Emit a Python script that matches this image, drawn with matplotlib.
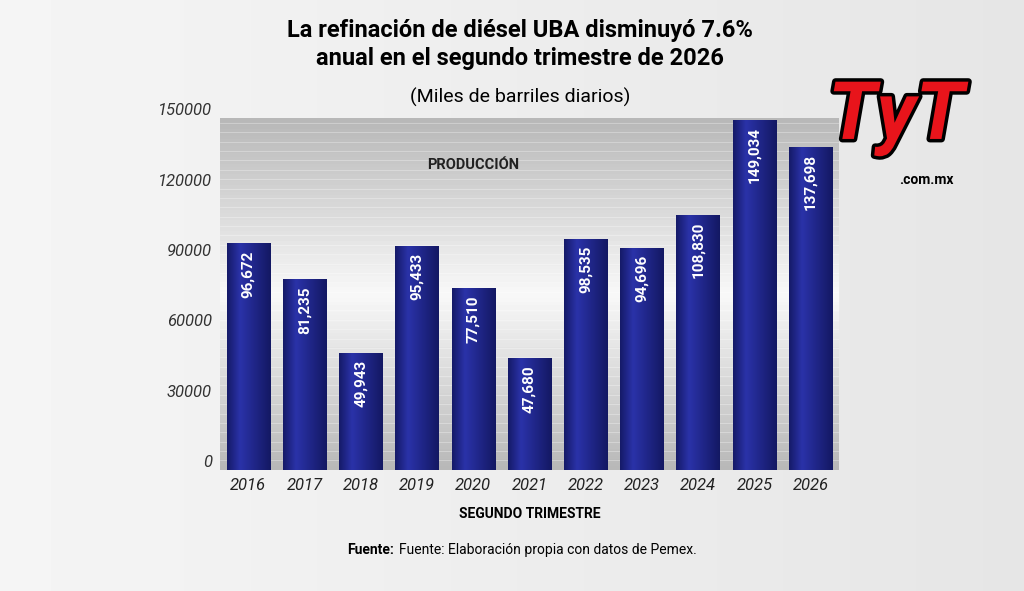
import matplotlib
matplotlib.use("Agg")
import matplotlib.pyplot as plt
import numpy as np
import matplotlib.patheffects as pe
from matplotlib.colors import LinearSegmentedColormap

years = ["2016","2017","2018","2019","2020","2021","2022","2023","2024","2025","2026"]
values = [96672,81235,49943,95433,77510,47680,98535,94696,108830,149034,137698]
labels = ["96,672","81,235","49,943","95,433","77,510","47,680","98,535","94,696","108,830","149,034","137,698"]
yticks = [0,30000,60000,90000,120000,150000]

fig = plt.figure(figsize=(10.24,5.91), dpi=100)
fig.patch.set_facecolor("#ececec")
bg = fig.add_axes([0,0,1,1], zorder=-5)
g = np.linspace(0.96,0.9,200)[None,:]*np.ones((100,1))
bg.imshow(g, cmap="gray", vmin=0, vmax=1, aspect="auto", extent=[0,1,0,1])
bg.axis("off")

ax = fig.add_axes([0.215,0.205,0.604,0.595])
ax.set_xlim(-0.5,len(years)-0.5)
ax.set_ylim(0,150000)
grad = np.concatenate([np.linspace(0.72,0.97,50),np.linspace(0.97,0.72,50)])[:,None]
ax.imshow(grad, cmap="gray", vmin=0, vmax=1, aspect="auto",
          extent=[-0.5,len(years)-0.5,0,150000], zorder=0)
for yv in np.arange(0,150001,4000):
    ax.axhline(yv, color="white", lw=0.6, alpha=0.35, zorder=1)
bars = ax.bar(range(len(years)), values, width=0.77, color="#1a1f7a", zorder=2)
hg = np.concatenate([np.linspace(0.35,1,30),np.linspace(1,0.3,70)])[None,:]
cm = LinearSegmentedColormap.from_list("b",["#0a0d45","#2a32a8"])
for b in bars:
    x0,w,h = b.get_x(), b.get_width(), b.get_height()
    im = ax.imshow(hg, cmap=cm, vmin=0, vmax=1, aspect="auto", extent=[x0,x0+w,0,h], zorder=3)
    im.set_clip_path(b)
for i,(v,l) in enumerate(zip(values,labels)):
    ax.text(i, v-3000, l, rotation=90, ha="center", va="top", color="white",
            fontsize=11, fontweight="bold", family="Roboto", zorder=4)
ax.text(len(years)/2-1.5, 130000, "PRODUCCIÓN", ha="center", va="center",
        fontsize=10.5, fontweight="bold", family="Roboto", color="#222", zorder=4)
ax.set_yticks(yticks)
ax.set_yticklabels([str(t) for t in yticks], fontstyle="italic", family="Roboto", fontsize=12, color="#333")
ax.set_xticks(range(len(years)))
ax.set_xticklabels(years, fontstyle="italic", family="Roboto", fontsize=12, color="#222")
ax.tick_params(length=0, pad=6)
for s in ax.spines.values(): s.set_visible(False)
for t in ax.get_yticklabels(): t.set_va("bottom")
ax.set_xlabel("SEGUNDO TRIMESTRE", family="Roboto", fontweight="bold", fontsize=10, labelpad=10)

fig.text(0.508, 0.925, "La refinación de diésel UBA disminuyó 7.6%\nanual en el segundo trimestre de 2026",
         ha="center", va="center", fontsize=17, fontweight="bold", family="Roboto", linespacing=1.25)
fig.text(0.508, 0.835, "(Miles de barriles diarios)", ha="center", va="center", fontsize=14, family="Roboto")
fig.text(0.385, 0.07, "Fuente:", ha="right", va="center", fontsize=10, fontweight="bold", family="Roboto")
fig.text(0.39, 0.07, "Fuente: Elaboración propia con datos de Pemex.", ha="left",
         va="center", fontsize=10, family="Roboto")
fig.text(0.875, 0.8, "TyT", ha="center", va="center", fontsize=58, fontweight="bold",
         family="Roboto", color="#e8141b", fontstyle="italic",
         path_effects=[pe.withStroke(linewidth=5, foreground="black")])
fig.text(0.905, 0.695, ".com.mx", ha="center", va="center", fontsize=10, fontweight="bold",
         family="Roboto", color="black")
fig.savefig("out.png", dpi=100)
